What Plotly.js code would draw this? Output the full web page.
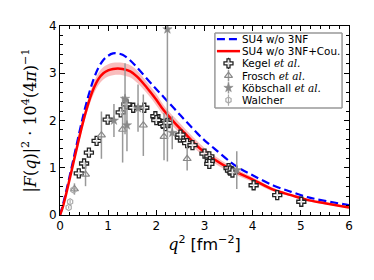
<!DOCTYPE html>
<html><head><meta charset="utf-8">
<script src="https://cdn.plot.ly/plotly-3.0.1.min.js"></script>
<style>html,body{margin:0;padding:0;background:#fff}#plot{width:374px;height:280px}</style>
</head><body><div id="plot"></div>
<script>
// Theory curves
const xCurve = [0,0.05,0.1,0.2,0.3,0.4,0.5,0.6,0.7,0.8,0.9,1.0,1.1,1.2,1.3,1.46,1.6,1.8,2.0,2.15,2.4,2.6,2.84,3.0,3.2,3.54,3.74,4.0,4.44,4.8,5.13,5.5,6.0];
const blueY = [0,0.18,0.38,0.82,1.28,1.74,2.18,2.56,2.88,3.12,3.28,3.37,3.42,3.42,3.39,3.27,3.12,2.89,2.66,2.50,2.22,2.0,1.74,1.58,1.41,1.12,0.98,0.84,0.62,0.49,0.38,0.30,0.21];
const redY  = [0,0.14,0.33,0.76,1.20,1.64,2.05,2.40,2.68,2.88,3.00,3.06,3.09,3.10,3.09,3.04,2.93,2.70,2.44,2.22,1.93,1.72,1.47,1.33,1.18,0.97,0.87,0.75,0.53,0.42,0.32,0.25,0.16];
const redHi = [0,0.15,0.35,0.81,1.27,1.73,2.15,2.51,2.80,3.01,3.13,3.19,3.22,3.23,3.22,3.17,3.06,2.82,2.56,2.33,2.04,1.82,1.57,1.42,1.26,1.04,0.93,0.80,0.57,0.45,0.35,0.27,0.18];
const redLo = [0,0.13,0.31,0.71,1.13,1.55,1.95,2.29,2.56,2.75,2.87,2.93,2.96,2.97,2.96,2.91,2.80,2.58,2.32,2.11,1.82,1.62,1.37,1.24,1.10,0.90,0.81,0.70,0.49,0.39,0.29,0.23,0.14];

// Experimental data
const kegelX = [0.39,0.50,0.60,0.76,0.99,1.26,1.38,1.52,1.75,1.98,2.00,2.14,2.19,2.23,2.49,2.50,2.64,2.75,3.00,3.10,3.11,3.10,3.50,3.53,3.58,4.02,4.51,5.01];
const kegelY = [0.88,1.09,1.32,1.57,2.02,2.17,2.34,2.27,2.27,2.09,2.01,1.93,1.88,1.95,1.64,1.70,1.52,1.48,1.30,1.24,1.14,1.08,0.99,0.94,0.90,0.63,0.42,0.28];
const kegelE = [0.05,0.05,0.05,0.05,0.06,0.06,0.06,0.05,0.05,0.05,0.05,0.05,0.05,0.05,0.05,0.05,0.04,0.04,0.04,0.04,0.04,0.04,0.04,0.04,0.04,0.03,0.03,0.03];

const froschX = [0.30,0.53,0.86,1.30,1.73,2.16,2.64];
const froschY = [0.55,0.86,1.69,1.81,1.90,1.66,1.19];
const froschE = [0.12,0.25,0.50,0.70,0.65,0.50,0.25];

const kobX = [1.12,1.35,1.39,1.62,2.23,2.33,3.67];
const kobY = [2.00,2.46,1.90,2.26,3.93,1.74,0.95];
const kobE = [0.35,0.75,0.55,0.50,2.80,0.35,0.40];

const walX = [0.18,0.21,0.28];
const walY = [0.16,0.28,0.53];
const walE = [0.03,0.04,0.05];

// Legend labels
const legendLabels = ['SU4 w/o 3NF', 'SU4 w/o 3NF+Cou.', 'Kegel', 'Frosch', 'Köbschall', 'Walcher'];
const legendEtAl = [false, false, true, true, true, false];

const it = s => "<span style='font-family:DejaVu Serif;font-style:italic'>" + s + "</span>";

const kegelMarker = {symbol:'cross', size:7.5, color:'rgba(255,255,255,0.85)', line:{color:'#222', width:1.3}};
const froschMarker = {symbol:'triangle-up-open', size:7, color:'#888', line:{color:'#888', width:1.2}};
const kobMarker = {symbol:'star', size:7, color:'#888', line:{color:'#888', width:0.5}};
const walMarker = {symbol:'hexagon-open', size:6, color:'#aaa', line:{color:'#aaa', width:1.2}};

// legend geometry (paper coords within plot area)
const legX0 = 0.536, legX1 = 0.976, legY0 = 0.566, legY1 = 0.963;
const rowY = [0.931, 0.867, 0.802, 0.737, 0.673, 0.608];
const symX0 = 0.543, symX1 = 0.623, symXc = 0.583, txtX = 0.624;

const traces = [
  {x: xCurve, y: redLo, mode:'lines', line:{width:0, shape:'spline'}, showlegend:false, hoverinfo:'skip'},
  {x: xCurve, y: redHi, mode:'lines', line:{width:0, shape:'spline'}, fill:'tonexty', fillcolor:'rgba(240,90,90,0.4)', showlegend:false, hoverinfo:'skip'},
  {x: xCurve, y: blueY, mode:'lines', line:{color:'#0000ff', width:2.2, dash:'8px,4px', shape:'spline'}, showlegend:false},
  {x: xCurve, y: redY, mode:'lines', line:{color:'#ff0000', width:2.5, shape:'spline'}, showlegend:false},
  {x: kegelX, y: kegelY, mode:'markers', marker:kegelMarker, showlegend:false,
   error_y:{type:'data', array:kegelE, visible:true, color:'#222', thickness:1.2, width:0}},
  {x: froschX, y: froschY, mode:'markers', marker:froschMarker, showlegend:false,
   error_y:{type:'data', array:froschE, visible:true, color:'#999', thickness:1.5, width:0}},
  {x: kobX, y: kobY, mode:'markers', marker:kobMarker, showlegend:false,
   error_y:{type:'data', array:kobE, visible:true, color:'#999', thickness:1.5, width:0}},
  {x: walX, y: walY, mode:'markers', marker:walMarker, showlegend:false,
   error_y:{type:'data', array:walE, visible:true, color:'#aaa', thickness:1.2, width:0}},
  // legend symbols (overlay axes in 0..1 plot-area units)
  {x:[symXc], y:[rowY[2]], xaxis:'x2', yaxis:'y2', mode:'markers', marker:kegelMarker, showlegend:false,
   error_y:{type:'constant', value:0.03, visible:true, color:'#222', thickness:1.2, width:0}},
  {x:[symXc], y:[rowY[3]], xaxis:'x2', yaxis:'y2', mode:'markers', marker:froschMarker, showlegend:false,
   error_y:{type:'constant', value:0.03, visible:true, color:'#999', thickness:1.5, width:0}},
  {x:[symXc], y:[rowY[4]], xaxis:'x2', yaxis:'y2', mode:'markers', marker:kobMarker, showlegend:false,
   error_y:{type:'constant', value:0.03, visible:true, color:'#999', thickness:1.5, width:0}},
  {x:[symXc], y:[rowY[5]], xaxis:'x2', yaxis:'y2', mode:'markers', marker:walMarker, showlegend:false,
   error_y:{type:'constant', value:0.03, visible:true, color:'#aaa', thickness:1.2, width:0}}
];

const axisCommon = {
  showline:true, linecolor:'#000', linewidth:1, mirror:'allticks',
  ticks:'inside', ticklen:5, tickwidth:1, tickcolor:'#000',
  showgrid:false, zeroline:false,
  tickfont:{family:'DejaVu Sans', size:12, color:'#000'}
};

const frameColor = '#999999';
const shapes = [
  {type:'line', xref:'paper', yref:'paper', x0:legX0, x1:legX1, y0:legY1, y1:legY1, line:{color:frameColor, width:1.5}},
  {type:'line', xref:'paper', yref:'paper', x0:legX0, x1:legX1, y0:legY0, y1:legY0, line:{color:frameColor, width:1.5}},
  {type:'line', xref:'paper', yref:'paper', x0:legX0, x1:legX0, y0:legY0, y1:legY1, line:{color:frameColor, width:1.5}},
  {type:'line', xref:'paper', yref:'paper', x0:legX1, x1:legX1, y0:legY0, y1:legY1, line:{color:frameColor, width:1.5}},
  {type:'line', xref:'paper', yref:'paper', x0:symX0, x1:symX1, y0:rowY[0], y1:rowY[0],
   line:{color:'#0000ff', width:2.2, dash:'8px,4px'}},
  {type:'line', xref:'paper', yref:'paper', x0:symX0, x1:symX1, y0:rowY[1], y1:rowY[1],
   line:{color:'#ff0000', width:2.5}}
];

const annotations = legendLabels.map((lab, i) => ({
  xref:'paper', yref:'paper', x:txtX, y:rowY[i], xanchor:'left', yanchor:'middle', showarrow:false,
  text: lab + (legendEtAl[i] ? ' ' + it('et al.') : ''),
  font:{family:'DejaVu Sans', size:10.4, color:'#000'}
}));

const layout = {
  width:374, height:280,
  margin:{l:60, r:25, t:26, b:65},
  paper_bgcolor:'#fff', plot_bgcolor:'#fff',
  showlegend:false,
  xaxis: Object.assign({}, axisCommon, {
    range:[0,6], dtick:1, tick0:0,
    minor:{dtick:0.2, ticks:'inside', ticklen:3, tickcolor:'#000', showgrid:false},
    title:{text: it('q') + '<sup>2</sup> [fm<sup>−2</sup>]', font:{family:'DejaVu Sans', size:16, color:'#000'}, standoff:6}
  }),
  yaxis: Object.assign({}, axisCommon, {
    range:[0,4], dtick:1, tick0:0,
    minor:{dtick:0.2, ticks:'inside', ticklen:3, tickcolor:'#000', showgrid:false},
    title:{text: '|' + it('F') + '(' + it('q') + ')|<sup>2</sup> · 10<sup>4</sup>(4' + it('π') + ')<sup>−1</sup>', font:{family:'DejaVu Serif', size:16, color:'#000'}, standoff:8}
  }),
  xaxis2:{overlaying:'x', range:[0,1], visible:false, fixedrange:true},
  yaxis2:{overlaying:'y', range:[0,1], visible:false, fixedrange:true},
  shapes: shapes,
  annotations: annotations
};

Plotly.newPlot('plot', traces, layout, {staticPlot:true, displayModeBar:false});
</script></body></html>
